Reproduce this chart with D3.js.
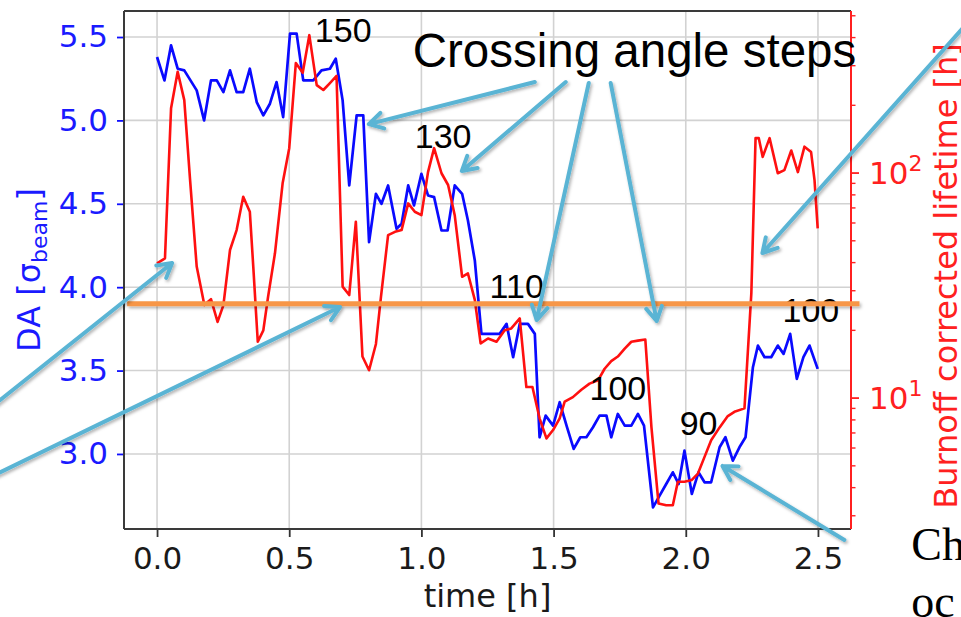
<!DOCTYPE html>
<html>
<head>
<meta charset="utf-8">
<script src="https://cdn.jsdelivr.net/npm/d3@7"></script>
<style>
    body { margin: 0; background: #fff; }
    svg { display: block; font-family: "DejaVu Sans", sans-serif; }
</style>
</head>
<body>
<div id="chart"></div>
<script>
// DA (blue, left axis) readings
const daTime = [0.000, 0.028, 0.053, 0.078, 0.103, 0.150, 0.178, 0.204, 0.226, 0.251, 0.276, 0.301, 0.326, 0.351, 0.377, 0.402, 0.427, 0.452, 0.477, 0.503,
    0.528, 0.553, 0.591, 0.622, 0.654, 0.676, 0.702, 0.727, 0.755, 0.780, 0.802, 0.828, 0.849, 0.874, 0.906, 0.925, 0.950, 0.972, 1.000, 1.025,
    1.048, 1.076, 1.099, 1.126, 1.154, 1.176, 1.202, 1.227, 1.296, 1.322, 1.347, 1.372, 1.403, 1.429, 1.447, 1.470, 1.498, 1.523, 1.551, 1.576,
    1.601, 1.624, 1.649, 1.674, 1.700, 1.718, 1.743, 1.769, 1.794, 1.819, 1.842, 1.876, 1.901, 1.926, 1.951, 1.973, 1.995, 2.023, 2.048, 2.071,
    2.096, 2.128, 2.150, 2.178, 2.203, 2.226, 2.254, 2.273, 2.298, 2.323, 2.348, 2.370, 2.395, 2.420, 2.445, 2.468, 2.499];
const daValues = [5.38, 5.24, 5.45, 5.31, 5.30, 5.18, 5.00, 5.24, 5.24, 5.17, 5.30, 5.17, 5.17, 5.31, 5.11, 5.03, 5.10, 5.23, 5.02, 5.52,
    5.52, 5.24, 5.24, 5.30, 5.31, 5.37, 5.12, 4.61, 5.03, 5.03, 4.27, 4.56, 4.50, 4.61, 4.35, 4.38, 4.61, 4.49, 4.68, 4.55,
    4.54, 4.34, 4.34, 4.61, 4.56, 4.40, 4.16, 3.72, 3.72, 3.78, 3.58, 3.78, 3.78, 3.72, 3.10, 3.23, 3.17, 3.31, 3.16, 3.03,
    3.10, 3.10, 3.16, 3.23, 3.23, 3.10, 3.24, 3.17, 3.17, 3.24, 3.17, 2.68, 2.75, 2.82, 2.89, 2.82, 3.02, 2.76, 2.89, 2.83,
    2.83, 3.04, 3.10, 2.96, 3.04, 3.10, 3.52, 3.65, 3.58, 3.58, 3.65, 3.60, 3.72, 3.45, 3.58, 3.65, 3.51];

// burnoff corrected lifetime (red, right log axis) readings, hours
const lifeTime = [0.000, 0.030, 0.053, 0.078, 0.103, 0.125, 0.150, 0.179, 0.204, 0.229, 0.251, 0.276, 0.301, 0.326, 0.351, 0.364, 0.381, 0.402, 0.420, 0.446,
    0.475, 0.500, 0.525, 0.551, 0.576, 0.604, 0.629, 0.654, 0.679, 0.702, 0.727, 0.752, 0.777, 0.802, 0.828, 0.847, 0.874, 0.900, 0.925, 0.950,
    0.975, 1.000, 1.025, 1.048, 1.076, 1.101, 1.126, 1.154, 1.176, 1.202, 1.224, 1.252, 1.284, 1.315, 1.340, 1.372, 1.397, 1.420, 1.447, 1.473,
    1.498, 1.523, 1.542, 1.573, 1.605, 1.636, 1.668, 1.693, 1.718, 1.743, 1.769, 1.794, 1.819, 1.847, 1.870, 1.897, 1.926, 1.951, 1.970, 1.995,
    2.023, 2.046, 2.071, 2.096, 2.128, 2.159, 2.184, 2.222, 2.248, 2.264, 2.276, 2.291, 2.317, 2.348, 2.373, 2.399, 2.424, 2.449, 2.474, 2.487, 2.499];
const lifeValues = [39.7, 41.8, 194, 282, 211, 93, 38.4, 25.9, 27.5, 21.8, 25.9, 45.5, 55.8, 78.5, 67.3, 38.4, 17.8, 20.0, 28.2, 44,
    90, 129, 308, 279, 410, 246, 234, 251, 270, 31.3, 28.7, 60.8, 15.3, 13.3, 17.4, 28.2, 53, 54.8, 55.8, 73.3,
    67.3, 65, 101, 129, 99.8, 88.5, 65, 34.6, 35.8, 27.3, 17.5, 18.4, 17.8, 20, 20.4, 22.6, 11.2, 11.2, 8.13, 6.62,
    7.21, 8.13, 9.64, 10.1, 10.9, 11.6, 12.0, 13.5, 14.6, 15.3, 16.6, 17.8, 18.0, 18.2, 7.45, 3.40, 3.34, 3.34, 4.25, 4.25,
    4.33, 4.62, 5.48, 6.50, 7.41, 8.32, 8.69, 9.0, 29.2, 143, 143, 118, 143, 99.8, 103, 126, 101, 131, 124, 93, 56.8];

const xTicks = [0, 0.5, 1.0, 1.5, 2.0, 2.5];
const daTicks = [3.0, 3.5, 4.0, 4.5, 5.0, 5.5];
const lifeMajor = [10, 100];
const lifeMinor = [3, 4, 5, 6, 7, 8, 9, 20, 30, 40, 50, 60, 70, 80, 90, 200, 300, 400, 500];

// crossing angle values written on the slide
const angleLabels = ['150', '130', '110', '100', '90', '100'];
const angleLabelAt = [[0.597, 5.470], [0.975, 4.835], [1.258, 3.935], [1.636, 3.324], [1.977, 3.114], [2.366, 3.791]];
const thresholdDA = 3.9;

// overlay arrows (time, DA) tail -> tip
const arrowTails = [[-0.669, 3.228], [-0.669, 2.832], [1.429, 5.230], [1.546, 5.230], [1.633, 5.224], [1.716, 5.224], [3.129, 5.698], [2.600, 2.484]];
const arrowTips = [[0.057, 4.145], [0.692, 3.881], [0.801, 4.978], [1.153, 4.697], [1.436, 3.803], [1.890, 3.797], [2.290, 4.205], [2.139, 2.928]];


function drawChart() {
    const width = 961, height = 617;
    const margin = { top: 11, right: 110, bottom: 88, left: 124 };
    const plotBottom = height - margin.bottom, plotRight = width - margin.right;

    const svg = d3.select('#chart').append('svg')
        .attr('width', width)
        .attr('height', height);

    const x = d3.scaleLinear().domain([-0.125, 2.625]).range([margin.left, plotRight]);
    const yDA = d3.scaleLinear().domain([2.55, 5.656]).range([plotBottom, margin.top]);
    const yLife = d3.scaleLog().domain([2.62, 525]).range([plotBottom, margin.top]);

    // drop shadow for the slide overlay shapes
    const shadow = svg.append('defs').append('filter')
        .attr('id', 'shadow')
        .attr('filterUnits', 'userSpaceOnUse')
        .attr('x', 0).attr('y', 0).attr('width', width).attr('height', height);
    shadow.append('feDropShadow')
        .attr('dx', 1.5).attr('dy', 2).attr('stdDeviation', 1.6)
        .attr('flood-color', '#000').attr('flood-opacity', 0.3);

    // grid
    const grid = svg.append('g').attr('stroke', '#d2d2d2').attr('stroke-width', 1.6);
    grid.selectAll('.vgrid').data(xTicks).join('line')
        .attr('x1', d => x(d)).attr('x2', d => x(d))
        .attr('y1', margin.top).attr('y2', plotBottom);
    grid.selectAll('.hgrid').data(daTicks).join('line')
        .attr('x1', margin.left).attr('x2', plotRight)
        .attr('y1', d => yDA(d)).attr('y2', d => yDA(d));

    // series
    const daLine = d3.line().x((d, i) => x(daTime[i])).y(d => yDA(d));
    const lifeLine = d3.line().x((d, i) => x(lifeTime[i])).y(d => yLife(d));

    svg.append('path')
        .datum(daValues)
        .attr('d', daLine)
        .attr('fill', 'none')
        .attr('stroke', '#0a0aff')
        .attr('stroke-width', 2.7)
        .attr('stroke-linejoin', 'round');

    svg.append('path')
        .datum(lifeValues)
        .attr('d', lifeLine)
        .attr('fill', 'none')
        .attr('stroke', '#ff1010')
        .attr('stroke-width', 2.6)
        .attr('stroke-linejoin', 'round');

    // bottom axis
    const xAxis = svg.append('g')
        .attr('transform', `translate(0,${plotBottom})`)
        .call(d3.axisBottom(x).tickValues(xTicks).tickFormat(d3.format('.1f')).tickSize(8).tickPadding(10));
    xAxis.select('.domain').remove();
    xAxis.selectAll('line').attr('stroke', '#333').attr('stroke-width', 1.8);
    xAxis.selectAll('text').attr('font-size', 31).attr('fill', '#1a1a1a').attr('font-family', 'DejaVu Sans');

    // left axis
    const yAxis = svg.append('g')
        .attr('transform', `translate(${margin.left},0)`)
        .call(d3.axisLeft(yDA).tickValues(daTicks).tickFormat(d3.format('.1f')).tickSize(7).tickPadding(9));
    yAxis.select('.domain').remove();
    yAxis.selectAll('line').attr('stroke', '#1010ff').attr('stroke-width', 1.8);
    yAxis.selectAll('text').attr('font-size', 31).attr('fill', '#1a1aff').attr('font-family', 'DejaVu Sans');

    // right log axis
    const rAxis = svg.append('g').attr('transform', `translate(${plotRight},0)`);
    rAxis.selectAll('.minor').data(lifeMinor).join('line')
        .attr('x1', 0).attr('x2', 4.5)
        .attr('y1', d => yLife(d)).attr('y2', d => yLife(d))
        .attr('stroke', '#ff2020').attr('stroke-width', 1.4);
    rAxis.selectAll('.major').data(lifeMajor).join('line')
        .attr('x1', 0).attr('x2', 8)
        .attr('y1', d => yLife(d)).attr('y2', d => yLife(d))
        .attr('stroke', '#ff2020').attr('stroke-width', 1.8);
    const rLabels = rAxis.selectAll('.rlabel').data(lifeMajor).join('text')
        .attr('x', 18)
        .attr('y', d => yLife(d))
        .attr('dy', '0.36em')
        .attr('font-size', 31)
        .attr('fill', '#ff2020');
    rLabels.append('tspan').text('10');
    rLabels.append('tspan')
        .attr('dy', -13)
        .attr('font-size', 22)
        .text(d => Math.round(Math.log10(d)));

    // spines
    const spines = svg.append('g').attr('stroke-width', 2);
    spines.append('line').attr('x1', margin.left).attr('x2', margin.left).attr('y1', margin.top).attr('y2', plotBottom).attr('stroke', '#3a3a3a');
    spines.append('line').attr('x1', margin.left).attr('x2', plotRight).attr('y1', plotBottom).attr('y2', plotBottom).attr('stroke', '#3a3a3a');
    spines.append('line').attr('x1', margin.left).attr('x2', plotRight).attr('y1', margin.top).attr('y2', margin.top).attr('stroke', '#3a3a3a');
    spines.append('line').attr('x1', plotRight).attr('x2', plotRight).attr('y1', margin.top).attr('y2', plotBottom).attr('stroke', '#ff2020');

    // axis titles
    svg.append('text')
        .attr('x', (margin.left + plotRight) / 2)
        .attr('y', 607)
        .attr('text-anchor', 'middle')
        .attr('font-size', 32)
        .attr('fill', '#1a1a1a')
        .text('time [h]');

    const daTitle = svg.append('text')
        .attr('transform', `translate(40,${(margin.top + plotBottom) / 2}) rotate(-90)`)
        .attr('text-anchor', 'middle')
        .attr('font-size', 32)
        .attr('fill', '#1a1aff');
    daTitle.append('tspan').text('DA [σ');
    daTitle.append('tspan').attr('font-size', 22).attr('dy', 7).text('beam');
    daTitle.append('tspan').attr('dy', -7).text(']');

    // right title runs past the top of the slide crop, as in the source
    svg.append('text')
        .attr('transform', `translate(957,${(margin.top + plotBottom) / 2 + 6}) rotate(-90)`)
        .attr('text-anchor', 'middle')
        .attr('font-size', 32)
        .attr('fill', '#ff2020')
        .text('Burnoff corrected lifetime [h]');

    // slide overlay: texts, threshold line, arrows
    const overlay = svg.append('g').attr('font-family', '"Liberation Sans", Arial, sans-serif');

    overlay.append('text')
        .attr('x', x(0.967)).attr('y', yDA(5.320))
        .attr('font-size', 47.5)
        .attr('fill', '#000')
        .text('Crossing angle steps');

    overlay.selectAll('.angle').data(angleLabels).join('text')
        .attr('x', (d, i) => x(angleLabelAt[i][0]))
        .attr('y', (d, i) => yDA(angleLabelAt[i][1]))
        .attr('font-size', 34)
        .attr('fill', '#000')
        .text(d => d);

    overlay.append('line')
        .attr('x1', x(-0.113)).attr('x2', x(2.657))
        .attr('y1', yDA(thresholdDA)).attr('y2', yDA(thresholdDA))
        .attr('stroke', '#f79646')
        .attr('stroke-width', 5)
        .attr('filter', 'url(#shadow)');

    const arrowColor = '#5ab4d4';
    const arrows = overlay.append('g')
        .attr('stroke', arrowColor)
        .attr('stroke-width', 4)
        .attr('fill', 'none')
        .attr('stroke-linecap', 'round')
        .attr('stroke-linejoin', 'round')
        .attr('filter', 'url(#shadow)');

    arrowTips.forEach((tip, i) => {
        const tail = arrowTails[i];
        const x0 = x(tail[0]), y0 = yDA(tail[1]);
        const x1 = x(tip[0]), y1 = yDA(tip[1]);
        const ang = Math.atan2(y1 - y0, x1 - x0);
        const head = 16, spread = 0.52;
        const p = d3.path();
        p.moveTo(x0, y0);
        p.lineTo(x1, y1);
        p.moveTo(x1 - head * Math.cos(ang - spread), y1 - head * Math.sin(ang - spread));
        p.lineTo(x1, y1);
        p.lineTo(x1 - head * Math.cos(ang + spread), y1 - head * Math.sin(ang + spread));
        arrows.append('path').attr('d', p.toString());
    });

    // slide body text, cut at the window edge as in the source
    const body = svg.append('g')
        .attr('font-family', '"Liberation Serif", "Times New Roman", serif')
        .attr('font-size', 46)
        .attr('fill', '#000');
    body.append('text').attr('x', x(2.853)).attr('y', yDA(2.364)).text('Ch');
    body.append('text').attr('x', x(2.853)).attr('y', yDA(2.035) + 2).text('oc');
}

drawChart();
</script>
</body>
</html>
